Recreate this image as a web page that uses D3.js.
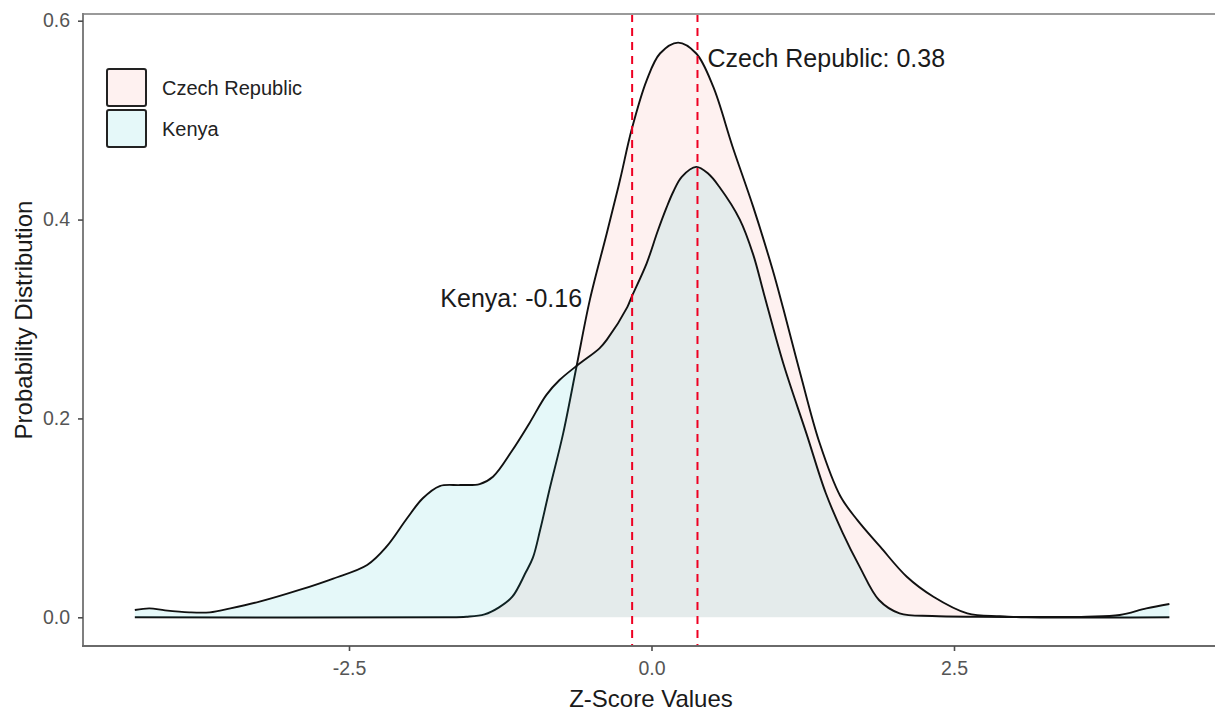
<!DOCTYPE html>
<html>
<head>
<meta charset="utf-8">
<script src="https://cdn.jsdelivr.net/npm/d3@7"></script>
<style>
  html, body { margin: 0; padding: 0; background: #ffffff; }
  svg { display: block; font-family: "Liberation Sans", Arial, sans-serif; }
</style>
</head>
<body>
<svg id="chart" width="1215" height="711"></svg>
<script>
// ---- data ----
const seriesNames = ["Czech Republic", "Kenya"];
const seriesColors = ["#F8766D", "#00BFC4"];
const seriesMeans = [0.38, -0.16];

const czechZ = [-4.27, -1.7, -1.53, -1.38, -1.26, -1.15, -1.04, -0.98, -0.92, -0.84, -0.73, -0.62, -0.51, -0.37, -0.26, -0.165, -0.04, 0.07, 0.22, 0.37, 0.51, 0.67, 0.84, 1.0, 1.09, 1.23, 1.39, 1.56, 1.70, 1.89, 2.11, 2.33, 2.61, 2.88, 3.1, 4.28];
const czechD = [0, 0, 0.0006, 0.003, 0.010, 0.0207, 0.045, 0.060, 0.088, 0.13, 0.185, 0.252, 0.319, 0.386, 0.44, 0.49, 0.54, 0.567, 0.578, 0.567, 0.5336, 0.4733, 0.413, 0.350, 0.31, 0.245, 0.175, 0.122, 0.098, 0.071, 0.0408, 0.0207, 0.004, 0.001, 0, 0];

const kenyaZ = [-4.27, -4.15, -4.02, -3.82, -3.65, -3.48, -3.24, -2.91, -2.63, -2.35, -2.19, -2.02, -1.89, -1.75, -1.58, -1.42, -1.31, -1.15, -1.01, -0.87, -0.76, -0.61, -0.43, -0.37, -0.20, -0.165, -0.04, 0.05, 0.124, 0.18, 0.25, 0.37, 0.47, 0.56, 0.73, 0.84, 0.93, 1.09, 1.28, 1.44, 1.58, 1.72, 1.88, 2.05, 2.32, 2.7, 3.2, 3.6, 3.87, 4.09, 4.28];
const kenyaD = [0.0073, 0.009, 0.007, 0.005, 0.005, 0.009, 0.0157, 0.0275, 0.039, 0.0526, 0.071, 0.0996, 0.1197, 0.132, 0.133, 0.134, 0.1414, 0.168, 0.195, 0.2235, 0.2386, 0.2537, 0.2705, 0.279, 0.312, 0.322, 0.356, 0.388, 0.412, 0.428, 0.443, 0.453, 0.446, 0.433, 0.40, 0.365, 0.325, 0.255, 0.185, 0.125, 0.085, 0.051, 0.0174, 0.004, 0.0013, 0.0005, 0.0003, 0.0006, 0.0023, 0.009, 0.0134];

const xTicks = [-2.5, 0, 2.5];
const xTickLabels = ["-2.5", "0.0", "2.5"];
const yTicks = [0, 0.2, 0.4, 0.6];
const yTickLabels = ["0.0", "0.2", "0.4", "0.6"];
const xTitle = "Z-Score Values";
const yTitle = "Probability Distribution";

// ---- build series ----
const series = [
  { name: seriesNames[0], color: seriesColors[0], mean: seriesMeans[0], pts: czechZ.map((z, i) => ({ z, d: czechD[i] })) },
  { name: seriesNames[1], color: seriesColors[1], mean: seriesMeans[1], pts: kenyaZ.map((z, i) => ({ z, d: kenyaD[i] })) }
];

// ---- layout ----
const svg = d3.select("#chart");
const W = 1215, H = 711;
const panel = { left: 83, top: 14, right: 1215, bottom: 646 };

const x = d3.scaleLinear().domain([-2.5, 2.5]).range([349, 954]);
const y = d3.scaleLinear().domain([0, 0.6]).range([617.3, 20.7]);

svg.append("rect").attr("width", W).attr("height", H).attr("fill", "#ffffff");

const plot = svg.append("g");

const curve = d3.curveCatmullRom.alpha(0.5);
const area = d3.area()
  .x(p => x(p.z)).y0(y(0)).y1(p => Math.min(y(0), y(p.d)))
  .curve(curve);
const line = d3.line()
  .x(p => x(p.z)).y(p => y(p.d))
  .curve(curve);

series.forEach(s => {
  plot.append("path")
    .datum(s.pts)
    .attr("d", area)
    .attr("fill", s.color)
    .attr("fill-opacity", 0.1)
    .attr("stroke", "none");
  plot.append("path")
    .datum(s.pts)
    .attr("d", line)
    .attr("fill", "none")
    .attr("stroke", "#111")
    .attr("stroke-width", 1.9)
    .attr("stroke-linejoin", "round");
});

// mean lines
series.forEach(s => {
  plot.append("line")
    .attr("x1", x(s.mean)).attr("x2", x(s.mean))
    .attr("y1", panel.top).attr("y2", panel.bottom)
    .attr("stroke", "#ee0022")
    .attr("stroke-width", 2)
    .attr("stroke-dasharray", "8,6");
});

// annotations
plot.append("text")
  .attr("x", x(seriesMeans[0]) + 10)
  .attr("y", 67)
  .attr("font-size", 25)
  .attr("fill", "#1a1a1a")
  .attr("text-anchor", "start")
  .text(seriesNames[0] + ": " + seriesMeans[0].toFixed(2));

plot.append("text")
  .attr("x", x(seriesMeans[1]) - 50)
  .attr("y", 307)
  .attr("font-size", 25)
  .attr("fill", "#1a1a1a")
  .attr("text-anchor", "end")
  .text(seriesNames[1] + ": " + seriesMeans[1].toFixed(2));

// frame lines
svg.append("line").attr("x1", panel.left).attr("x2", panel.right).attr("y1", panel.top).attr("y2", panel.top)
  .attr("stroke", "#9a9a9a").attr("stroke-width", 2);
svg.append("line").attr("x1", panel.left).attr("x2", panel.left).attr("y1", panel.top - 1).attr("y2", panel.bottom + 1)
  .attr("stroke", "#7f7f7f").attr("stroke-width", 2);
svg.append("line").attr("x1", panel.left - 1).attr("x2", panel.right).attr("y1", panel.bottom).attr("y2", panel.bottom)
  .attr("stroke", "#6a6a6a").attr("stroke-width", 2);

// axes
const xAxis = d3.axisBottom(x).tickValues(xTicks).tickFormat((d, i) => xTickLabels[i]).tickSize(5).tickPadding(10);
const gx = svg.append("g").attr("transform", `translate(0,${panel.bottom})`).call(xAxis);
gx.select(".domain").remove();
gx.selectAll(".tick line").attr("stroke", "#4d4d4d").attr("stroke-width", 1.6);
gx.selectAll(".tick text").attr("font-size", 19.5).attr("fill", "#555").attr("font-family", "Liberation Sans, Arial, sans-serif");

const yAxis = d3.axisLeft(y).tickValues(yTicks).tickFormat((d, i) => yTickLabels[i]).tickSize(5).tickPadding(8);
const gy = svg.append("g").attr("transform", `translate(${panel.left},0)`).call(yAxis);
gy.select(".domain").remove();
gy.selectAll(".tick line").attr("stroke", "#4d4d4d").attr("stroke-width", 1.6);
gy.selectAll(".tick text").attr("font-size", 19.5).attr("fill", "#555").attr("font-family", "Liberation Sans, Arial, sans-serif");

// axis titles
svg.append("text")
  .attr("x", 651).attr("y", 707)
  .attr("text-anchor", "middle")
  .attr("font-size", 24)
  .attr("fill", "#1a1a1a")
  .text(xTitle);

svg.append("text")
  .attr("transform", "translate(32,320) rotate(-90)")
  .attr("text-anchor", "middle")
  .attr("font-size", 24)
  .attr("fill", "#1a1a1a")
  .text(yTitle);

// legend
const legend = svg.append("g").attr("transform", "translate(107,69)");
series.forEach((s, i) => {
  const g = legend.append("g").attr("transform", `translate(0,${i * 41})`);
  g.append("rect").attr("x", 0).attr("y", 0).attr("width", 39).attr("height", 37)
    .attr("fill", "#ffffff");
  g.append("rect").attr("x", 0).attr("y", 0).attr("width", 39).attr("height", 37)
    .attr("fill", s.color).attr("fill-opacity", 0.1)
    .attr("stroke", "#222").attr("stroke-width", 2).attr("rx", 2);
  g.append("text").attr("x", 55).attr("y", 18.5).attr("dy", "0.35em")
    .attr("font-size", 20).attr("fill", "#222").text(s.name);
});
</script>
</body>
</html>
